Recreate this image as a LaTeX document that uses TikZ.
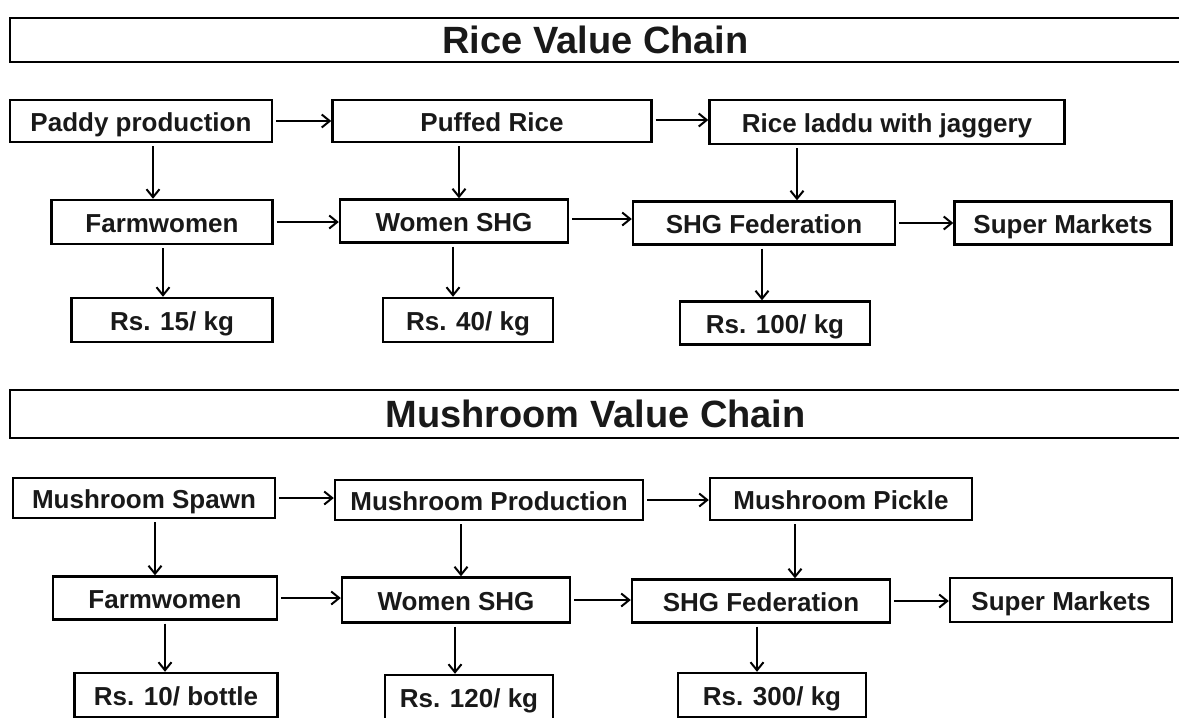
\documentclass[tikz,border=0pt]{standalone}
\usepackage{fontspec}
\setmainfont{Liberation Sans}
\usetikzlibrary{arrows.meta}
\begin{document}
\begin{tikzpicture}[x=1pt,y=-1pt,
  box/.style={draw, line width=2.4pt, inner sep=0pt, text height=22pt, text depth=2pt, font=\fontsize{26}{30}\selectfont\bfseries, text=black!90},
  titlebox/.style={draw, line width=2.4pt, inner sep=0pt, text height=28pt, text depth=1pt, font=\fontsize{38}{42}\selectfont\bfseries, text=black!90},
  arr/.style={line width=2pt, -{Straight Barb[length=8pt,width=13pt,line width=2pt]}},
]
\useasboundingbox (0,0) rectangle (1179,718);
\clip (0,0) rectangle (1179,718);
% ---------- Rice ----------
\node[titlebox, minimum width=1171pt, minimum height=44pt] (t1) at (595.5,40) {Rice Value Chain};
\node[box, minimum width=262pt, minimum height=42pt] (paddy) at (141,121) {Paddy production};
\node[box, minimum width=319pt, minimum height=42pt] (puffed) at (492,121) {Puffed Rice};
\node[box, minimum width=355pt, minimum height=44pt] (laddu) at (887,122) {Rice laddu with jaggery};
\node[box, minimum width=221pt, minimum height=44pt] (farmA) at (162,222) {Farmwomen};
\node[box, minimum width=228pt, minimum height=43pt] (shgA) at (454,221) {Women SHG};
\node[box, minimum width=262pt, minimum height=43pt] (fedA) at (764,223) {SHG Federation};
\node[box, minimum width=217pt, minimum height=43pt] (smA) at (1063,223) {Super Markets};
\node[box, minimum width=201pt, minimum height=44pt] (pA1) at (172,320) {Rs. 15/ kg};
\node[box, minimum width=170pt, minimum height=44pt] (pA2) at (468,320) {Rs. 40/ kg};
\node[box, minimum width=190pt, minimum height=43pt] (pA3) at (775,323) {Rs. 100/ kg};
% horizontal arrows
\draw[arr, shorten <=3pt] (paddy.east) -- (puffed.west |- paddy.east);
\draw[arr, shorten <=3pt] ([yshift=1pt]puffed.east) -- ([yshift=1pt]laddu.west |- puffed.east);
\draw[arr, shorten <=3pt] (farmA.east) -- (shgA.west |- farmA.east);
\draw[arr, shorten <=3pt] ([yshift=2pt]shgA.east) -- ([yshift=2pt]fedA.west |- shgA.east);
\draw[arr, shorten <=3pt] (fedA.east) -- (smA.west |- fedA.east);
% vertical arrows
\draw[arr, shorten <=3pt] ([xshift=12pt]paddy.south) -- ([xshift=12pt]paddy.south |- farmA.north);
\draw[arr, shorten <=3pt] ([xshift=-33pt]puffed.south) -- ([xshift=-33pt]puffed.south |- shgA.north);
\draw[arr, shorten <=3pt] ([xshift=-90pt]laddu.south) -- ([xshift=-90pt]laddu.south |- fedA.north);
\draw[arr, shorten <=3pt] ([xshift=1pt]farmA.south) -- ([xshift=1pt]farmA.south |- pA1.north);
\draw[arr, shorten <=3pt] ([xshift=-1pt]shgA.south) -- ([xshift=-1pt]shgA.south |- pA2.north);
\draw[arr, shorten <=3pt] ([xshift=-2pt]fedA.south) -- ([xshift=-2pt]fedA.south |- pA3.north);
% ---------- Mushroom ----------
\node[titlebox, minimum width=1171pt, minimum height=48pt] (t2) at (595.5,414) {Mushroom Value Chain};
\node[box, minimum width=262pt, minimum height=40pt] (spawn) at (144,498) {Mushroom Spawn};
\node[box, minimum width=308pt, minimum height=40pt] (mprod) at (489,500) {Mushroom Production};
\node[box, minimum width=262pt, minimum height=42pt] (pickle) at (841,499) {Mushroom Pickle};
\node[box, minimum width=224pt, minimum height=43pt] (farmB) at (165,598) {Farmwomen};
\node[box, minimum width=228pt, minimum height=45pt] (shgB) at (456,600) {Women SHG};
\node[box, minimum width=258pt, minimum height=43pt] (fedB) at (761,601) {SHG Federation};
\node[box, minimum width=222pt, minimum height=44pt] (smB) at (1061,600) {Super Markets};
\node[box, minimum width=203pt, minimum height=44pt] (pB1) at (176,695) {Rs. 10/ bottle};
\node[box, minimum width=168pt, minimum height=44pt] (pB2) at (469,697) {Rs. 120/ kg};
\node[box, minimum width=188pt, minimum height=44pt] (pB3) at (772,695) {Rs. 300/ kg};
% horizontal arrows
\draw[arr, shorten <=3pt] (spawn.east) -- (mprod.west |- spawn.east);
\draw[arr, shorten <=3pt] (mprod.east) -- (pickle.west |- mprod.east);
\draw[arr, shorten <=3pt] (farmB.east) -- (shgB.west |- farmB.east);
\draw[arr, shorten <=3pt] (shgB.east) -- (fedB.west |- shgB.east);
\draw[arr, shorten <=3pt] (fedB.east) -- (smB.west |- fedB.east);
% vertical arrows
\draw[arr, shorten <=3pt] ([xshift=11pt]spawn.south) -- ([xshift=11pt]spawn.south |- farmB.north);
\draw[arr, shorten <=3pt] ([xshift=-28pt]mprod.south) -- ([xshift=-28pt]mprod.south |- shgB.north);
\draw[arr, shorten <=3pt] ([xshift=-46pt]pickle.south) -- ([xshift=-46pt]pickle.south |- fedB.north);
\draw[arr, shorten <=3pt] ([xshift=0pt]farmB.south) -- ([xshift=0pt]farmB.south |- pB1.north);
\draw[arr, shorten <=3pt] ([xshift=-1pt]shgB.south) -- ([xshift=-1pt]shgB.south |- pB2.north);
\draw[arr, shorten <=3pt] ([xshift=-4pt]fedB.south) -- ([xshift=-4pt]fedB.south |- pB3.north);
\end{tikzpicture}
\end{document}
